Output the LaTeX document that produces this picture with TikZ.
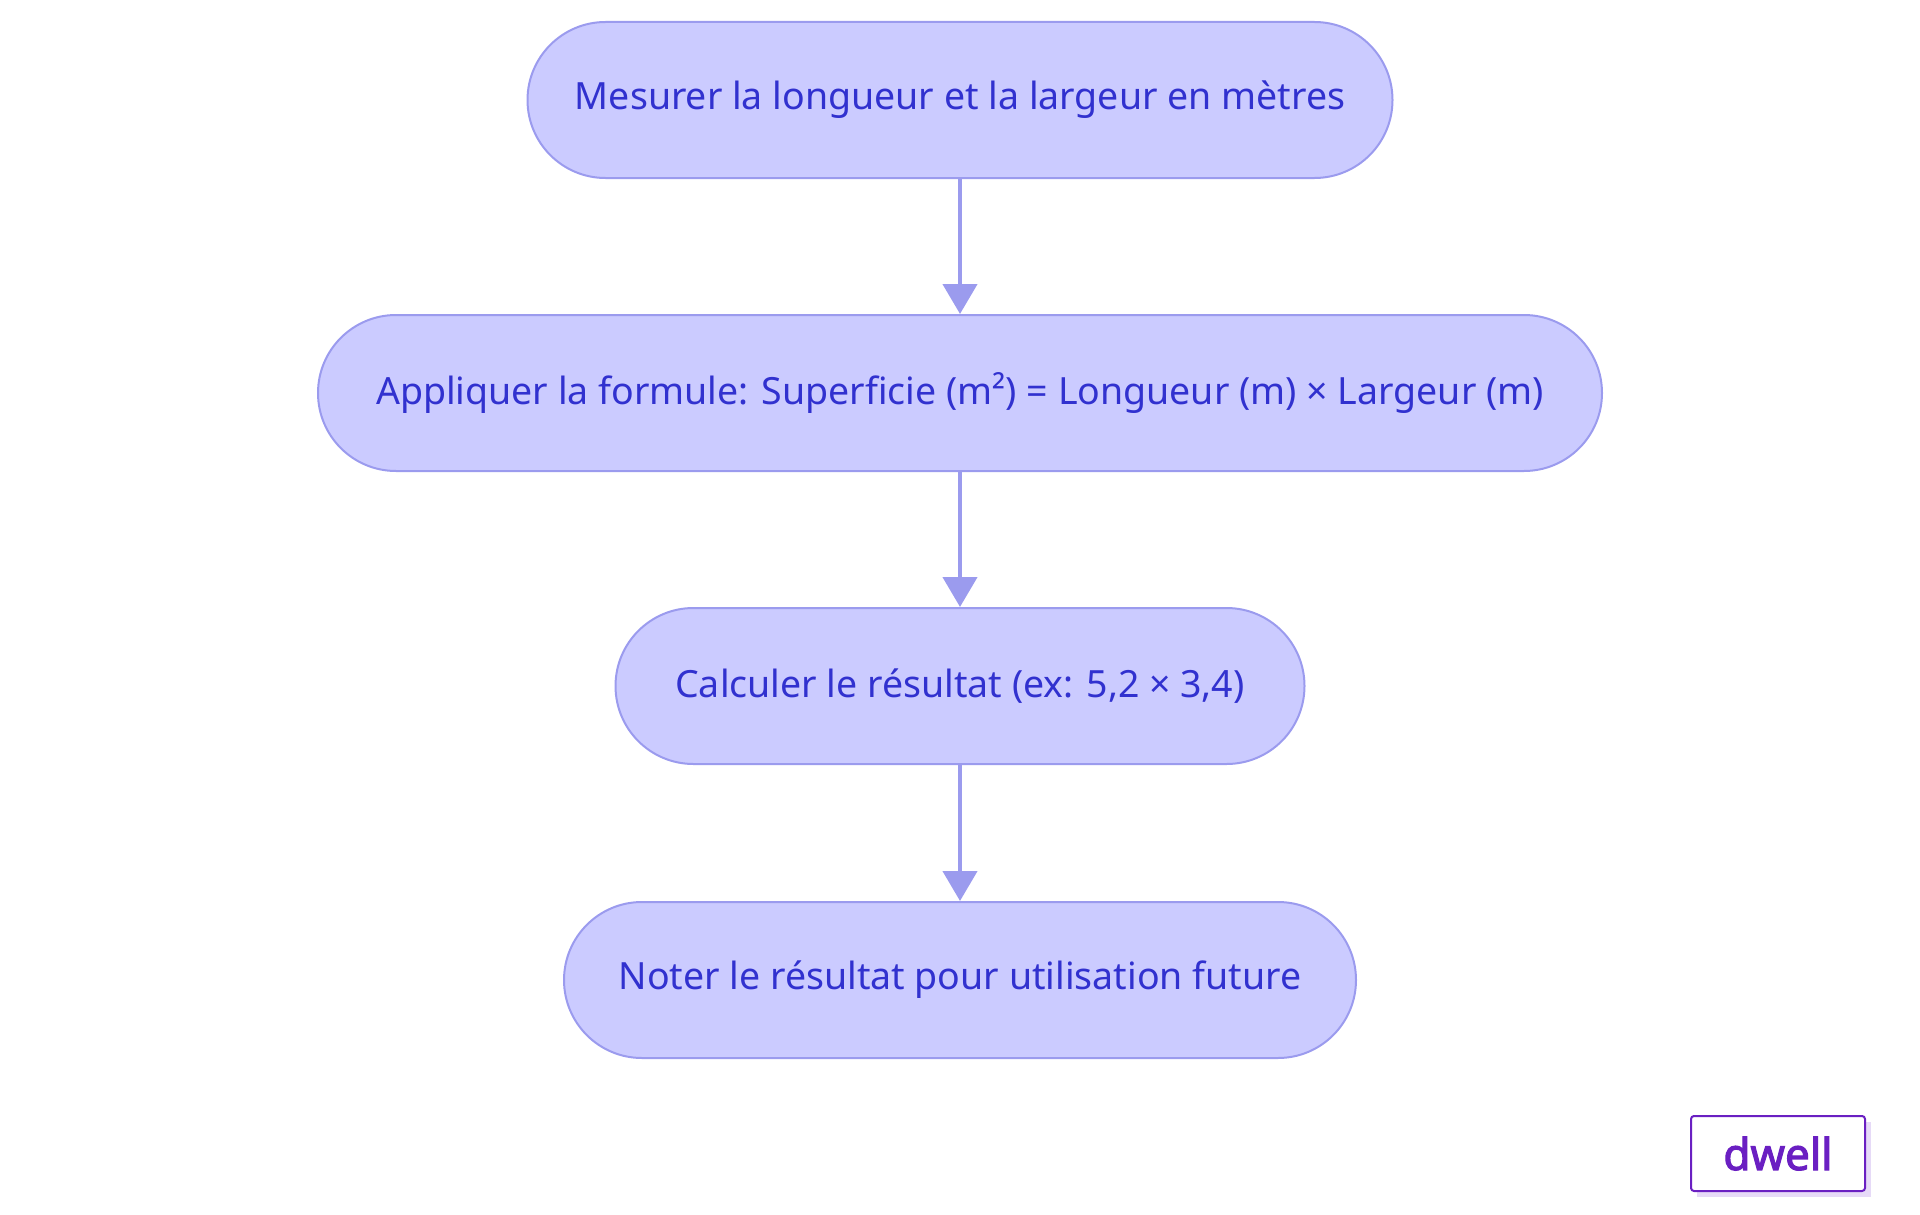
\documentclass[tikz,border=0pt]{standalone}
\usepackage{fontspec}
\setmainfont{Noto Sans}
\newfontfamily\logofont{Noto Sans}[FakeBold=2.5]
\usetikzlibrary{arrows.meta}
\definecolor{nfill}{HTML}{CBCBFF}
\definecolor{nline}{HTML}{9B9BEE}
\definecolor{ntext}{HTML}{3131CF}
\definecolor{logo}{HTML}{6A1FC2}
\definecolor{shad}{HTML}{E6DAF7}
\begin{document}
\begin{tikzpicture}[x=1pt,y=-1pt,
  box/.style={draw=nline,fill=nfill,line width=2pt,rounded corners=78pt,minimum height=156pt,text=ntext,font=\fontsize{37.5}{44}\selectfont,inner sep=0pt},
  arr/.style={draw=nline,line width=4.5pt,-{Triangle[length=30pt,width=34pt]}}]
\useasboundingbox (0,0) rectangle (1920,1215);
\node[box,minimum width=865pt] (a) at (960,100) {Mesurer la longueur et la largeur en mètres};
\node[box,minimum width=1284pt] (b) at (960,393) {Appliquer la formule: Superficie (m²) = Longueur (m) × Largeur (m)};
\node[box,minimum width=689pt] (c) at (960,686) {Calculer le résultat (ex: 5,2 × 3,4)};
\node[box,minimum width=792pt] (d) at (960,980) {Noter le résultat pour utilisation future};
\draw[arr] (a) -- (b);
\draw[arr] (b) -- (c);
\draw[arr] (c) -- (d);
\fill[shad] (1697,1122) rectangle (1871,1197);
\node[draw=logo,fill=white,line width=2pt,rounded corners=3pt,minimum width=174pt,minimum height=75pt,text=logo,font=\logofont\fontsize{44}{50}\selectfont] (logo) at (1778,1153.5) {dwell};
\end{tikzpicture}
\end{document}
